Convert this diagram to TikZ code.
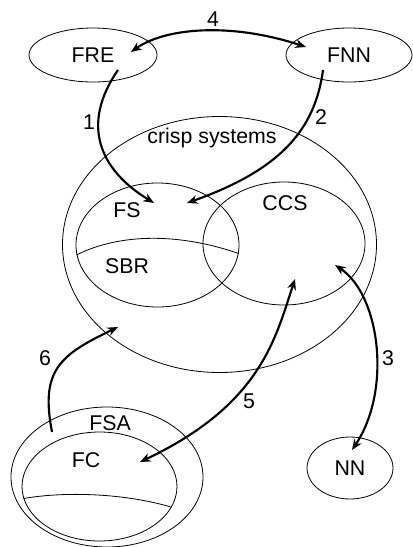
\documentclass[tikz,border=0pt]{standalone}
\usepackage{fontspec}
\setmainfont{Liberation Sans}
\usetikzlibrary{shapes.geometric, arrows.meta, calc}

\begin{document}
\begin{tikzpicture}[
  x=0.75pt, y=-0.75pt,
  font=\fontsize{16}{19}\selectfont,
  set/.style = {
    ellipse, draw, line width=0.6pt, inner sep=0pt
  },
  lbl/.style = {inner sep=1pt},
  arr/.style = {-{Stealth[length=8pt, width=6.5pt, inset=2.5pt]}, line width=1.6pt},
  dbl/.style = {{Stealth[length=8pt, width=6.5pt, inset=2.5pt]}-{Stealth[length=8pt, width=6.5pt, inset=2.5pt]}, line width=1.6pt}
]
  \useasboundingbox (0,0) rectangle (412,547);

  % sets
  \node[set, minimum width=96pt,    minimum height=40.5pt] (fre)   at (93,55)      {FRE};
  \node[set, minimum width=94.5pt,  minimum height=40.5pt] (fnn)   at (349,55)     {FNN};
  \node[set, minimum width=235.5pt, minimum height=192pt]  (crisp) at (219.5,244.5) {};
  \node[set, minimum width=122.25pt,minimum height=93pt]   (fs)    at (157.5,245)  {};
  \node[set, minimum width=121.5pt, minimum height=92.25pt](ccs)   at (284,243.5)  {};
  \node[set, minimum width=144pt,   minimum height=105pt]  (fsa)   at (107,477)    {};
  \node[set, minimum width=116.25pt,minimum height=81.75pt](fc)    at (99.5,486.5) {};
  \node[set, minimum width=64.5pt,  minimum height=46.5pt] (nn)    at (350,468)    {NN};

  % dividing lines
  \draw[line width=0.6pt] (fs.187) .. controls (120,233) and (180,233) .. (fs.354);
  \draw[line width=0.6pt] (fc.189) .. controls (60,492) and (120,492) .. (fc.344);

  % texts
  \node[lbl] (crisp-t) at (212,138) {crisp systems};
  \node[lbl] (fs-t)    at (127,210) {FS};
  \node[lbl] (sbr-t)   at (127,266) {SBR};
  \node[lbl] (ccs-t)   at (285,203) {CCS};
  \node[lbl] (fsa-t)   at (110,423) {FSA};
  \node[lbl] (fc-t)    at (86,460)  {FC};

  % end points
  \coordinate (fre-e)   at ($(fre)+(38,-3)$);
  \coordinate (fre-s)   at ($(fre)+(25,15)$);
  \coordinate (fnn-w)   at ($(fnn)+(-43,-8)$);
  \coordinate (fnn-s)   at ($(fnn)+(-26,15)$);
  \coordinate (fs-a)    at ($(fs)+(-3.5,-42)$);
  \coordinate (fs-b)    at ($(fs)+(29.5,-42)$);
  \coordinate (ccs-a)   at ($(ccs)+(51,21.5)$);
  \coordinate (ccs-b)   at ($(ccs)+(11,35.5)$);
  \coordinate (nn-n)    at ($(nn)+(2,-18)$);
  \coordinate (fc-e)    at ($(fc)+(40.5,-24.5)$);
  \coordinate (fsa-n)   at ($(fsa)+(-55,-45)$);
  \coordinate (crisp-s) at ($(crisp)+(-101.5,82.5)$);

  % connectors
  \draw[dbl] (fre-e) .. controls (165,28) and (230,22) .. (fnn-w);
  \node[lbl] (n4) at (213,19) {4};
  \draw[arr] (fre-s) .. controls (80,125) and (100,170) .. (fs-a);
  \node[lbl] (n1) at (89,122) {1};
  \draw[arr] (fnn-s) .. controls (315,130) and (280,170) .. (fs-b);
  \node[lbl] (n2) at (321,117) {2};
  \draw[dbl] (ccs-a) .. controls (380,295) and (392,390) .. (nn-n);
  \node[lbl] (n3) at (388,358) {3};
  \draw[dbl] (ccs-b) .. controls (275,340) and (260,405) .. (fc-e);
  \node[lbl] (n5) at (249,401) {5};
  \draw[arr] (fsa-n) .. controls (40,370) and (60,355) .. (crisp-s);
  \node[lbl] (n6) at (45,358) {6};
\end{tikzpicture}
\end{document}
